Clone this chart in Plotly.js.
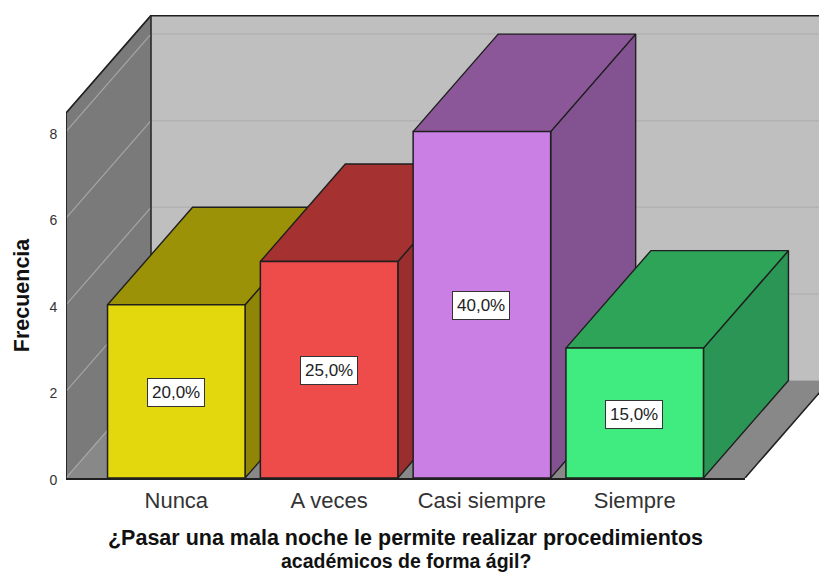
<!DOCTYPE html>
<html><head><meta charset="utf-8">
<script src="https://cdn.plot.ly/plotly-3.0.1.min.js"></script>
<style>html,body{margin:0;padding:0;background:#fff;overflow:hidden}#c{width:819px;height:572px}</style>
</head><body><div id="c"></div>
<script>
const categories = ["Nunca","A veces","Casi siempre","Siempre"];
const frecuencia = [4,5,8,3];
const porcentajes = ["20,0%","25,0%","40,0%","15,0%"];
const frontColors = ["#e3d80e","#ee4b4b","#c97fe3","#40ec7f"];
const topColors = ["#9c9207","#a53131","#8b5799","#2da458"];
const sideColors = ["#8f8608","#9a2e2e","#825291","#2a9554"];
const yTicks = [0,2,4,6,8];

// 3D projection, in axis units
const W = 819, H = 572;
const pxX = 152.8, pxY = 43.3;
const x0px = 176.3, y0px = 478;
const DX = 85/pxX, DY = 97.5/pxY;
const halfBar = 0.45;
const wallTop = 365/pxY;
const xLeft = (66-x0px)/pxX, xFront = (745-x0px)/pxX, xPage = (819-x0px)/pxX;
const edge = "#1f1f1f";

const traces = [];
function poly(xs, ys, fill, lineColor, lw){
  traces.push({type:"scatter",mode:lw?"lines":"none",x:xs.concat(xs[0]),y:ys.concat(ys[0]),fill:"toself",
    fillcolor:fill,line:{color:lineColor||edge,width:lw||0},hoverinfo:"skip",showlegend:false,xaxis:"x",yaxis:"y"});
}
function seg(xs, ys, color, lw){
  traces.push({type:"scatter",mode:"lines",x:xs,y:ys,line:{color:color,width:lw},hoverinfo:"skip",showlegend:false,xaxis:"x",yaxis:"y"});
}
// back wall
poly([xLeft+DX,xPage+1,xPage+1,xLeft+DX],[DY,DY,DY+wallTop,DY+wallTop],"#bfbfbf");
// floor
poly([xLeft,xFront,xFront+DX,xLeft+DX],[0,0,DY,DY],"#888888");
// left wall
poly([xLeft,xLeft+DX,xLeft+DX,xLeft],[0,DY,DY+wallTop,wallTop],"#7a7a7a");
// gridlines
yTicks.forEach(v=>{
  if(v>0) seg([xLeft+DX,xPage+1],[v+DY,v+DY],"#b2b2b2",1.5);
  seg([xLeft,xLeft+DX],[v,v+DY],"#a6a6a6",1.2);
});
seg([xFront+DX-0.3,xPage+1],[DY,DY],"#a8a8a8",1);
// wall edges
seg([xLeft,xLeft,xLeft+DX,xPage+1],[0,wallTop,DY+wallTop,DY+wallTop],edge,1.8);
seg([xLeft+DX,xLeft+DX],[DY,DY+wallTop],"#2a2a2a",1.6);
seg([xFront,xFront+DX],[0,DY],edge,1.5);
// side and top faces of each bar
categories.forEach((c,i)=>{
  const l=i-halfBar, r=i+halfBar, v=frecuencia[i];
  poly([r,r+DX,r+DX,r],[0,DY,v+DY,v],sideColors[i],edge,1.4);
  poly([l,r,r+DX,l+DX],[v,v,v+DY,v+DY],topColors[i],edge,1.4);
});
// front faces
traces.push({type:"bar",x:categories,y:frecuencia,width:halfBar*2,xaxis:"x2",yaxis:"y2",showlegend:false,
  marker:{color:frontColors,line:{color:edge,width:1.5}},hovertemplate:"%{x}: %{y}<extra></extra>"});

const annotations = categories.map((c,i)=>({
  x:i,y:frecuencia[i]/2,xref:"x2",yref:"y2",text:porcentajes[i],showarrow:false,xshift:-0.5,yshift:-1,
  font:{family:"Liberation Sans",size:17,color:"#222"},bgcolor:"#ffffff",bordercolor:"#333333",borderwidth:1,borderpad:4
}));
annotations.push({xref:"paper",yref:"paper",x:405.5/W,y:(H-561)/H,yanchor:"middle",showarrow:false,
  text:"<b>académicos de forma ágil?</b>",font:{family:"Liberation Sans",size:19.5,color:"#111"}});

const layout = {
  width:W,height:H,margin:{l:0,r:0,t:0,b:0},paper_bgcolor:"#ffffff",plot_bgcolor:"rgba(0,0,0,0)",showlegend:false,
  bargap:0.1,annotations,
  xaxis:{domain:[66/W,1],range:[xLeft,xPage],visible:false,fixedrange:true},
  yaxis:{domain:[(H-478)/H,(H-15)/H],range:[0,463/pxY],visible:false,fixedrange:true},
  xaxis2:{domain:[66/W,745/W],range:[xLeft,xFront],anchor:"y2",type:"category",categoryorder:"array",categoryarray:categories,
    showgrid:false,zeroline:false,showline:true,linecolor:edge,linewidth:2,ticks:"outside",ticklen:2,tickcolor:"rgba(0,0,0,0)",
    tickfont:{family:"Liberation Sans",size:22,color:"#333"},
    title:{text:"<b>¿Pasar una mala noche le permite realizar procedimientos</b>",standoff:18,
      font:{family:"Liberation Sans",size:21.5,color:"#111"}}},
  yaxis2:{domain:[(H-478)/H,(H-113)/H],range:[0,wallTop],anchor:"x2",tickmode:"array",tickvals:yTicks,ticktext:yTicks.map(String),
    showgrid:false,zeroline:false,showline:false,ticks:"outside",ticklen:5,tickcolor:"rgba(0,0,0,0)",ticklabelshift:2,
    tickfont:{family:"Liberation Sans",size:14,color:"#333"},
    title:{text:"<b>Frecuencia</b>",standoff:13,font:{family:"Liberation Sans",size:21.5,color:"#111"}}}
};
Plotly.newPlot("c",traces,layout,{displayModeBar:false,staticPlot:true});
</script></body></html>
